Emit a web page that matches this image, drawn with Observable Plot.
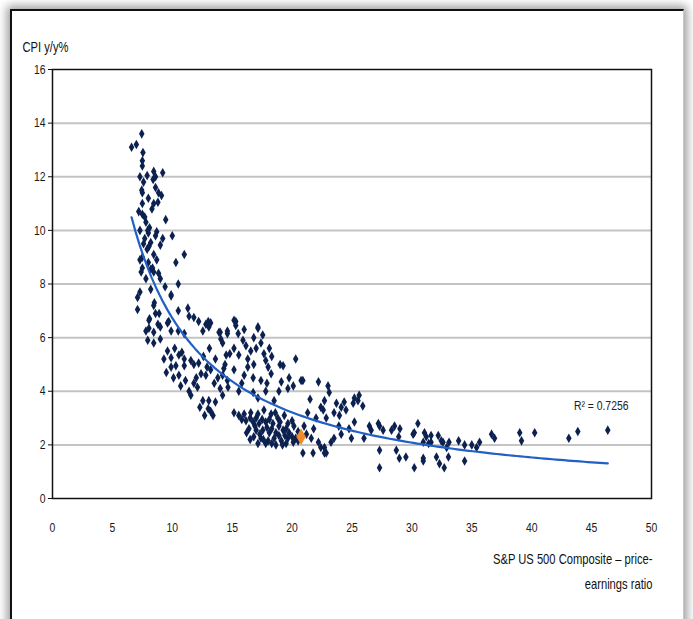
<!DOCTYPE html>
<html>
<head>
<meta charset="utf-8">
<script src="https://cdn.jsdelivr.net/npm/d3@7"></script>
<script src="https://cdn.jsdelivr.net/npm/@observablehq/plot@0.6"></script>
<style>
  html, body { margin: 0; padding: 0; background: #fff; overflow: hidden; }
  body { width: 693px; height: 619px; position: relative; }
  #sheet {
    position: absolute; left: 10px; top: 9px; width: 671px; height: 660px;
    border-top: 2px solid #111; border-left: 2px solid #111; border-right: 1px solid #c8c8c8;
    box-shadow: 0 0 9px 3px rgba(0,0,0,0.4); background: #fff;
  }
  #chart { position: absolute; left: 0; top: 0; }
</style>
</head>
<body>
<div id="sheet"></div>
<div id="chart"></div>
<script>
// S&P 500 P/E ratio vs CPI y/y%
const scatter = [
  // high-inflation / low P/E cluster
  [6.6,13.1],[7.0,13.2],[7.45,13.6],[7.5,12.6],[7.5,12.4],[7.3,12.0],[7.9,12.05],[8.45,12.2],[8.4,11.9],[9.2,12.15],
  [7.45,11.5],[7.5,11.4],[8.6,11.6],[8.85,11.4],[9.1,11.3],[8.45,11.0],[8.8,11.05],[7.5,11.0],[7.2,10.7],[7.5,10.6],
  [9.45,10.4],[7.8,10.3],[7.3,10.0],[7.95,10.0],[8.7,9.95],[10.0,9.8],[7.7,9.7],[8.2,9.55],[9.2,9.7],[8.05,9.4],
  [9.0,9.45],[7.9,9.3],[8.45,9.1],[11.0,9.1],[7.3,8.9],[7.5,8.6],[8.35,8.6],[10.3,8.8],[7.4,8.45],[8.45,8.45],
  [8.85,8.4],[9.4,7.9],[10.5,8.0],[7.3,7.7],[9.9,7.6],[7.6,9.5],[8.2,8.55],[7.1,7.5],[7.1,7.05],[8.5,7.3],
  [7.6,11.8],[8.0,11.2],[8.3,10.8],[7.7,10.5],[8.1,10.1],[8.6,9.8],[7.5,9.0],[8.0,8.8],[8.7,8.9],[7.8,8.2],
  [8.2,7.8],[9.0,8.2],[8.6,12.0],[7.55,12.9],[8.0,9.9],
  // band 6-7.5
  [8.45,7.2],[8.6,6.9],[10.5,7.0],[11.3,7.1],[11.4,6.8],[11.8,6.75],[12.2,6.6],[8.05,6.65],[8.8,6.5],[9.6,6.55],
  [12.8,6.5],[13.2,6.55],[8.05,6.35],[8.45,6.2],[9.0,6.4],[9.9,6.25],[10.5,6.25],[11.0,6.15],[12.55,6.25],[13.05,6.4],
  [7.95,5.9],[8.45,5.8],[9.0,5.95],[13.9,6.2],[14.05,5.95],[14.6,6.15],[8.1,6.7],[8.9,6.9],[9.7,6.6],[13.0,6.6],
  [14.0,6.2],[15.3,6.6],[7.8,6.25],[9.9,7.55],
  // mid cloud
  [9.3,5.2],[9.9,5.25],[10.55,5.35],[11.0,5.2],[11.55,5.15],[9.9,4.9],[10.3,4.95],[11.0,4.95],[11.8,5.0],[12.2,5.05],
  [10.1,4.5],[10.55,4.6],[11.1,4.4],[12.0,4.5],[12.4,4.65],[12.8,4.6],[13.2,4.8],[13.8,4.5],[14.2,4.6],[14.6,4.4],
  [11.4,4.0],[12.1,4.15],[11.55,3.85],[14.2,3.85],[12.55,3.65],[13.05,3.65],[13.0,3.35],[13.4,3.1],
  [9.6,5.5],[10.2,5.6],[10.8,5.45],[12.6,5.3],[13.1,5.6],[13.6,5.2],[12.9,4.9],[13.5,4.3],[14.0,4.1],[10.7,4.2],
  [11.8,4.3],[9.5,4.7],[12.3,3.4],[13.6,3.6],[14.4,5.0],[14.8,5.4],[12.7,3.1],[13.2,3.25],
  // upper band 14-23
  [15.15,6.65],[15.3,6.45],[14.6,6.25],[15.5,6.15],[17.15,6.35],[16.8,6.0],[17.55,6.1],[14.2,5.8],[15.15,5.6],[16.15,5.7],
  [16.55,5.5],[17.4,5.8],[17.65,5.4],[14.5,5.35],[15.55,5.35],[16.3,5.2],[16.8,5.0],[17.8,5.15],[18.0,4.9],[18.25,4.65],
  [20.3,5.2],[19.25,4.95],[14.3,4.85],[15.15,4.8],[16.0,4.6],[16.75,4.5],[17.4,4.4],[19.1,4.35],[19.75,4.5],[20.1,4.2],
  [20.75,4.4],[22.2,4.35],[23.0,4.2],[14.65,4.15],[15.55,4.0],[16.75,3.95],[17.8,4.0],[18.9,4.0],[17.15,3.75],[18.5,3.65],
  [19.65,4.1],[22.4,3.4],[17.15,6.4],[16.0,6.3],[15.9,5.9],[17.0,5.6],[18.1,5.6],[18.3,5.3],[19.0,5.0],[17.9,4.3],
  [15.8,4.3],[16.3,4.9],
  // lower dense cluster
  [15.15,3.2],[15.55,3.1],[16.0,3.15],[16.55,3.2],[17.15,3.15],[17.65,3.3],[18.25,3.15],[18.8,3.0],[19.35,3.1],[16.15,2.9],
  [16.75,2.85],[17.25,2.8],[17.8,2.85],[18.4,2.8],[18.9,2.7],[19.65,2.8],[20.15,2.7],[16.4,2.6],[17.0,2.55],[17.55,2.55],
  [18.1,2.45],[18.65,2.45],[19.25,2.55],[19.75,2.45],[16.8,2.3],[17.4,2.25],[18.0,2.15],[18.5,2.25],[19.1,2.15],[19.65,2.25],
  [20.3,2.25],[17.15,2.05],[17.8,2.05],[18.65,2.0],[19.5,2.05],[20.1,2.1],[20.9,1.7],[21.75,1.7],[21.6,2.25],[22.2,2.1],
  [22.4,1.9],[22.7,1.7],
  [15.8,2.95],[16.5,3.0],[17.0,3.0],[17.5,2.95],[18.1,2.95],[18.6,3.2],[19.0,2.85],[19.5,2.6],[20.0,2.9],[20.5,2.5],
  [16.2,2.45],[16.9,2.7],[17.3,2.4],[17.9,2.65],[18.3,2.6],[18.9,2.35],[19.4,2.35],[20.0,2.3],[16.5,2.2],[17.6,2.2],
  [18.3,2.05],[19.2,2.0],[20.5,2.15],[21.2,2.4],[21.0,2.7],
  // 20-27
  [23.1,3.95],[22.7,3.65],[22.6,3.3],[22.85,3.0],[23.7,3.55],[24.1,3.4],[24.35,3.6],[23.5,3.2],[23.95,3.1],[25.2,3.75],
  [25.6,3.85],[25.5,3.65],[25.9,3.45],[25.2,2.85],[24.75,2.6],[24.1,2.4],[23.5,2.25],[23.25,2.1],[22.7,1.9],[22.85,1.7],
  [24.95,2.25],[26.0,2.25],[26.45,2.7],[26.6,2.55],[20.9,4.4],[21.5,3.7],[22.0,3.0],[21.3,3.2],[24.5,3.3],[25.1,3.55],
  [23.9,2.7],[21.8,2.6],
  // 27-36
  [27.2,2.8],[27.6,2.55],[27.3,1.8],[27.3,1.15],[28.3,2.55],[28.55,2.7],[28.9,2.3],[28.7,1.8],[28.95,1.5],[29.5,1.55],
  [30.1,2.4],[30.5,2.8],[30.95,2.1],[30.95,1.5],[30.2,1.15],[31.4,2.05],[31.05,2.45],[31.2,2.3],[31.6,2.1],[30.95,1.4],
  [32.05,1.55],[32.3,1.3],[32.7,1.15],[33.05,1.55],[32.2,2.35],[32.6,2.1],[33.1,2.1],[32.9,1.9],[33.9,2.15],[34.4,2.0],
  [35.0,2.0],[35.4,1.9],[35.65,2.1],[34.4,1.4],[30.2,2.45],[27.3,2.7],[29.0,2.6],[31.6,2.35],[32.45,2.15],
  // high P/E tail
  [36.65,2.4],[36.9,2.25],[39.0,2.45],[39.15,2.15],[40.25,2.45],[43.1,2.25],[43.85,2.5],[46.35,2.55]
];
const latest = [[20.75, 2.3]];
const xTicks = [0,5,10,15,20,25,30,35,40,45,50];
const yTicks = [0,2,4,6,8,10,12,14,16];
const yLabel = "CPI y/y%";
const xLabel1 = "S&P US 500 Composite \u2013 price-";
const xLabel2 = "earnings ratio";
const r2Label = "R\u00b2 = 0.7256";

// Power trendline (least squares on log-log, as a spreadsheet does)
const lx = scatter.map(d => Math.log(d[0])), ly = scatter.map(d => Math.log(d[1]));
const mx = d3.mean(lx), my = d3.mean(ly);
const b = d3.sum(lx, (v, i) => (v - mx) * (ly[i] - my)) / d3.sum(lx, v => (v - mx) ** 2);
const a = Math.exp(my - b * mx);
const [x0, x1] = d3.extent(scatter, d => d[0]);
const trend = d3.range(0, 121).map(i => { const x = x0 + (x1 - x0) * i / 120; return [x, a * Math.pow(x, b)]; });

const font = '"Liberation Sans",Arial,sans-serif';

const chart = Plot.plot({
  width: 693, height: 619,
  marginLeft: 52, marginRight: 42, marginTop: 69, marginBottom: 121,
  x: {domain: [0, 50]},
  y: {domain: [0, 16]},
  style: {fontFamily: font, fontSize: "13px", color: "#1a1a1a", background: "transparent", overflow: "visible"},
  marks: [
    Plot.gridY(yTicks.filter(d => d > 0 && d < 16), {stroke: "#c4c4c4", strokeWidth: 2, strokeOpacity: 1}),
    Plot.frame({stroke: "#111", strokeWidth: 1.5}),
    Plot.axisY(yTicks, {tickSize: 4, tickPadding: 3, label: null, stroke: "#111"}),
    Plot.axisX(xTicks, {tickSize: 0, tickPadding: 24, label: null}),
    Plot.dot(scatter, {x: d => d[0], y: d => d[1], symbol: "diamond", r: 2.9, fill: "#0c2150", stroke: "none"}),
    Plot.line(trend, {x: d => d[0], y: d => d[1], stroke: "#2160c4", strokeWidth: 2.2}),
    Plot.dot(latest, {x: d => d[0], y: d => d[1], symbol: "diamond", r: 5, fill: "#f28a2c", stroke: "none"}),
    Plot.text([r2Label], {frameAnchor: "top-right", dx: -23, dy: 331, textAnchor: "end", fontSize: 13, fill: "#222"}),
    Plot.text([yLabel], {frameAnchor: "top-left", dx: -30, dy: -27, textAnchor: "start", fontSize: 14, fill: "#111"}),
    Plot.text([xLabel1], {frameAnchor: "bottom-right", dx: 1, dy: 65, textAnchor: "end", fontSize: 14, fill: "#111"}),
    Plot.text([xLabel2], {frameAnchor: "bottom-right", dx: 1, dy: 90, textAnchor: "end", fontSize: 14, fill: "#111"})
  ]
});
// Narrow the lettering (the original uses a condensed face) about each text's own anchor point
chart.querySelectorAll("text").forEach(t => {
  const ax = parseFloat(t.getAttribute("x") || 0) || 0;
  const tr = t.getAttribute("transform") || "";
  t.setAttribute("transform", `${tr} translate(${ax},0) scale(0.8,1) translate(${-ax},0)`);
});
document.getElementById("chart").appendChild(chart);
</script>
</body>
</html>
